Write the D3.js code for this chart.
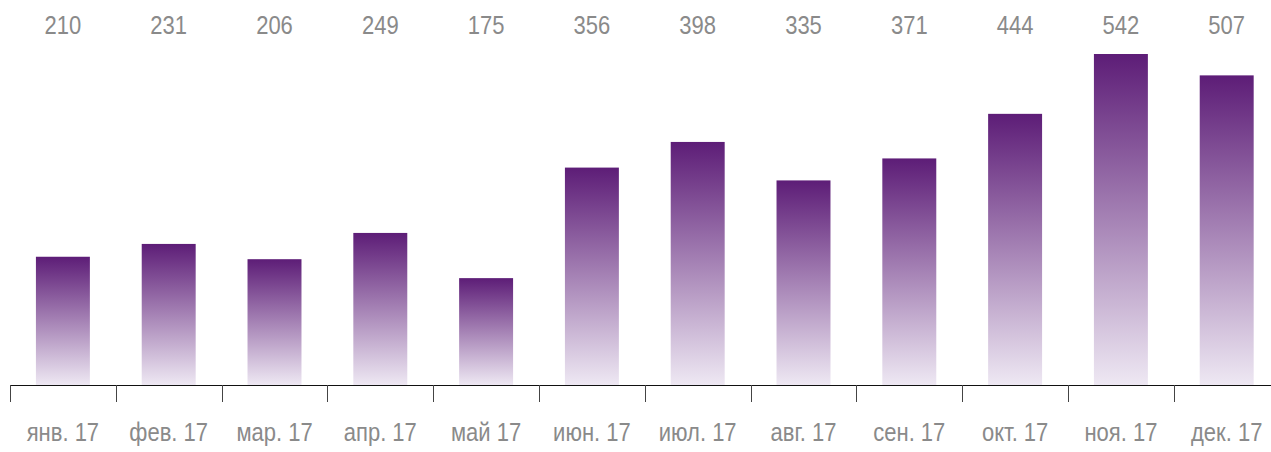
<!DOCTYPE html>
<html>
<head>
<meta charset="utf-8">
<script src="https://cdn.jsdelivr.net/npm/d3@7"></script>
<style>
  html, body { margin: 0; padding: 0; background: #fff; overflow: hidden; }
  svg { display: block; }
  .lbl { font-family: "Liberation Sans", Arial, sans-serif; fill: #8a8a8a; }
</style>
</head>
<body>
<svg id="chart"></svg>
<script>
const months = ['янв. 17', 'фев. 17', 'мар. 17', 'апр. 17', 'май 17', 'июн. 17',
                'июл. 17', 'авг. 17', 'сен. 17', 'окт. 17', 'ноя. 17', 'дек. 17'];
const values = [210, 231, 206, 249, 175, 356, 398, 335, 371, 444, 542, 507];

const width = 1271, height = 452;
const svg = d3.select('#chart').attr('width', width).attr('height', height);

const baseline = 385;
const x = d3.scaleBand()
    .domain(months)
    .range([10, 1279.6])
    .paddingInner(0.49)
    .paddingOuter(0.245);

const y = d3.scaleLinear()
    .domain([0, d3.max(values)])
    .range([baseline, 54]);

// gradient: dark on top, pale at the bottom of each bar
const grad = svg.append('defs').append('linearGradient')
    .attr('id', 'barGrad')
    .attr('x1', 0).attr('y1', 0).attr('x2', 0).attr('y2', 1);
grad.append('stop').attr('offset', '0%').attr('stop-color', '#5d1d77');
grad.append('stop').attr('offset', '100%').attr('stop-color', '#eee8f3');

svg.append('g')
    .selectAll('rect')
    .data(values)
    .enter()
    .append('rect')
    .attr('x', (d, i) => x(months[i]))
    .attr('y', d => y(d))
    .attr('width', x.bandwidth())
    .attr('height', d => baseline - y(d))
    .attr('fill', 'url(#barGrad)');

// condensed look: squeeze text horizontally
const squeeze = 0.88;

// value labels along the top
svg.append('g')
    .selectAll('text')
    .data(values)
    .enter()
    .append('text')
    .attr('class', 'lbl')
    .attr('transform', (d, i) => `translate(${x(months[i]) + x.bandwidth() / 2},34) scale(${squeeze},1)`)
    .attr('text-anchor', 'middle')
    .attr('font-size', 25)
    .text(d => d);

// axis line and ticks at band edges
const step = x.step();
const edges = months.map((m, i) => 10 + i * step).concat([10 + months.length * step]);

svg.append('line')
    .attr('x1', 10).attr('x2', 10 + months.length * step)
    .attr('y1', baseline + 0.5).attr('y2', baseline + 0.5)
    .attr('stroke', '#111');

svg.append('g')
    .selectAll('line')
    .data(edges)
    .enter()
    .append('line')
    .attr('x1', d => Math.round(d) + 0.5).attr('x2', d => Math.round(d) + 0.5)
    .attr('y1', baseline).attr('y2', baseline + 17)
    .attr('stroke', '#444');

svg.append('g')
    .selectAll('text')
    .data(months)
    .enter()
    .append('text')
    .attr('class', 'lbl')
    .attr('transform', d => `translate(${x(d) + x.bandwidth() / 2},441) scale(${squeeze},1)`)
    .attr('text-anchor', 'middle')
    .attr('font-size', 25)
    .text(d => d);
</script>
</body>
</html>
